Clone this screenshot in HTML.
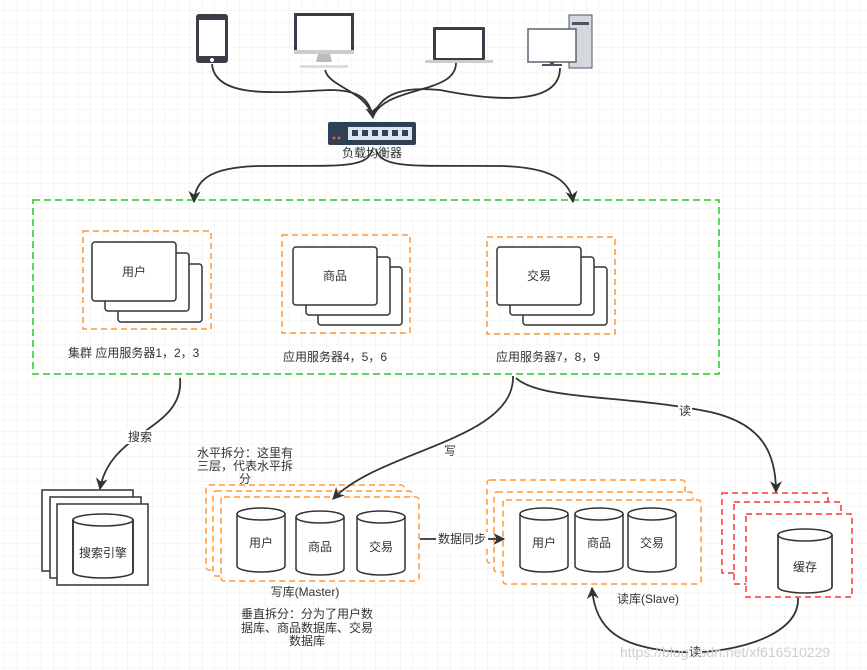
<!DOCTYPE html>
<html><head><meta charset="utf-8"><style>
html,body{margin:0;padding:0;background:#fff}
svg{display:block}
text{font-family:"Liberation Sans","Noto Sans CJK SC",sans-serif;font-size:12px;fill:#333}
</style></head><body>
<svg width="867" height="670" viewBox="0 0 867 670" xmlns="http://www.w3.org/2000/svg">
<defs>
<pattern id="g" x="4" y="-2" width="12.4" height="12.4" patternUnits="userSpaceOnUse">
<path d="M12.4 0V12.4M0 12.4H12.4" stroke="#ececec" stroke-width="1" fill="none"/>
</pattern>
<marker id="a" viewBox="0 0 10 10" refX="9" refY="5" markerWidth="12" markerHeight="12" orient="auto" markerUnits="userSpaceOnUse">
<path d="M0 0L10 5L0 10L3 5Z" fill="#333"/>
</marker>
<g id="cyl">
<path d="M0 6 A24 6 0 0 1 48 6 V58 A24 6 0 0 1 0 58 Z" fill="#fff" stroke="#333" stroke-width="1.5"/>
<path d="M0 6 A24 6 0 0 0 48 6" fill="none" stroke="#333" stroke-width="1.5"/>
</g>
</defs>
<rect width="867" height="670" fill="url(#g)"/>

<!-- devices -->
<rect x="196" y="14" width="32" height="49" rx="3" fill="#3a3d47"/>
<rect x="199" y="20" width="26" height="36" fill="#fff"/>
<circle cx="212" cy="60" r="2" fill="#fff"/>
<rect x="294" y="13" width="60" height="40" fill="#3a3d47"/>
<rect x="297" y="16" width="54" height="34" fill="#fff"/>
<rect x="294" y="50" width="60" height="4" fill="#ccc"/>
<path d="M318 54h12l2 8h-16z" fill="#bbb"/>
<rect x="300" y="65" width="48" height="3" fill="#ddd"/>
<rect x="433" y="27" width="52" height="33" rx="1" fill="#3a3d47"/>
<rect x="436" y="30" width="46" height="28" fill="#fff"/>
<rect x="425" y="60" width="68" height="3" fill="#ccc"/>
<rect x="569" y="15" width="23" height="53" fill="#d5d9de" stroke="#4a5563"/>
<rect x="572" y="22" width="17" height="3" fill="#4a5563"/>
<rect x="528" y="29" width="48" height="33" fill="#fff" stroke="#5a6570" stroke-width="1.5"/>
<rect x="550" y="62" width="4" height="3" fill="#4a5563"/><rect x="542" y="64" width="20" height="2" fill="#4a5563"/>

<!-- switch -->
<rect x="328" y="122" width="88" height="23" rx="2" fill="#2f3f55"/>
<rect x="348" y="127" width="64" height="13" fill="#dbe7f0"/>
<g fill="#2f3f55"><rect x="352" y="130" width="6" height="6"/><rect x="362" y="130" width="6" height="6"/><rect x="372" y="130" width="6" height="6"/><rect x="382" y="130" width="6" height="6"/><rect x="392" y="130" width="6" height="6"/><rect x="402" y="130" width="6" height="6"/></g>
<circle cx="334" cy="138" r="1.5" fill="#e06030"/><circle cx="339" cy="138" r="1.5" fill="#e06030"/>
<text x="372" y="157" text-anchor="middle">负载均衡器</text>

<!-- green cluster -->
<rect x="33" y="200" width="686" height="174" fill="none" stroke="#22cc22" stroke-width="1.5" stroke-dasharray="7,4"/>
<g fill="none" stroke="#ff9933" stroke-width="1.5" stroke-dasharray="6,4">
<rect x="83" y="231" width="128" height="98"/>
<rect x="282" y="235" width="128" height="98"/>
<rect x="487" y="237" width="128" height="97"/>
</g>
<g fill="#fff" stroke="#333" stroke-width="1.5">
<rect x="118" y="264" width="84" height="58" rx="3"/><rect x="105" y="253" width="84" height="58" rx="3"/><rect x="92" y="242" width="84" height="59" rx="3"/>
<rect x="318" y="267" width="84" height="58" rx="3"/><rect x="306" y="257" width="84" height="58" rx="3"/><rect x="293" y="247" width="84" height="58" rx="3"/>
<rect x="523" y="267" width="84" height="58" rx="3"/><rect x="510" y="257" width="84" height="58" rx="3"/><rect x="497" y="247" width="84" height="58" rx="3"/>
</g>
<text x="134" y="276" text-anchor="middle">用户</text>
<text x="335" y="280" text-anchor="middle">商品</text>
<text x="539" y="280" text-anchor="middle">交易</text>
<text x="68" y="357">集群 应用服务器1，2，3</text>
<text x="283" y="361">应用服务器4，5，6</text>
<text x="496" y="361">应用服务器7，8，9</text>

<!-- search engine -->
<g fill="#fff" stroke="#333" stroke-width="1.5">
<rect x="42" y="490" width="91" height="81"/><rect x="50" y="497" width="91" height="81"/><rect x="57" y="504" width="91" height="81"/>
</g>
<use href="#cyl" transform="translate(73,514) scale(1.25,1)"/>
<text x="103" y="557" text-anchor="middle">搜索引擎</text>

<!-- master -->
<text x="197" y="457">水平拆分：这里有</text>
<text x="197" y="470">三层，代表水平拆</text>
<text x="245" y="483" text-anchor="middle">分</text>
<g fill="#fff" stroke="#ff9933" stroke-width="1.5" stroke-dasharray="6,4">
<rect x="206" y="485" width="198" height="85" rx="3"/><rect x="213" y="491" width="199" height="85" rx="3"/><rect x="221" y="497" width="198" height="84" rx="3"/>
</g>
<use href="#cyl" transform="translate(237,508)"/>
<use href="#cyl" transform="translate(296,511)"/>
<use href="#cyl" transform="translate(357,511)"/>
<text x="261" y="547" text-anchor="middle">用户</text>
<text x="320" y="551" text-anchor="middle">商品</text>
<text x="381" y="551" text-anchor="middle">交易</text>
<text x="305" y="596" text-anchor="middle">写库(Master)</text>
<text x="307" y="618" text-anchor="middle">垂直拆分：分为了用户数</text>
<text x="307" y="632" text-anchor="middle">据库、商品数据库、交易</text>
<text x="307" y="645" text-anchor="middle">数据库</text>

<!-- slave -->
<g fill="#fff" stroke="#ff9933" stroke-width="1.5" stroke-dasharray="6,4">
<rect x="487" y="480" width="198" height="83" rx="3"/><rect x="494" y="492" width="199" height="80" rx="3"/><rect x="503" y="500" width="198" height="84" rx="3"/>
</g>
<use href="#cyl" transform="translate(520,508)"/>
<use href="#cyl" transform="translate(575,508)"/>
<use href="#cyl" transform="translate(628,508)"/>
<text x="544" y="547" text-anchor="middle">用户</text>
<text x="599" y="547" text-anchor="middle">商品</text>
<text x="652" y="547" text-anchor="middle">交易</text>
<text x="648" y="603" text-anchor="middle">读库(Slave)</text>

<!-- cache -->
<g fill="#fff" stroke="#ff3333" stroke-width="1.5" stroke-dasharray="6,4">
<rect x="722" y="493" width="106" height="80"/><rect x="734" y="502" width="107" height="82"/><rect x="746" y="514" width="106" height="83"/>
</g>
<use href="#cyl" transform="translate(778,529) scale(1.125,1)"/>
<text x="805" y="571" text-anchor="middle">缓存</text>

<!-- connectors on top -->
<g fill="none" stroke="#333" stroke-width="1.8">
<path d="M212 64 C215 100,280 92,330 90 C360 90,370 100,373 118" marker-end="url(#a)"/>
<path d="M325 70 C330 88,365 90,373 117"/>
<path d="M456 63 C456 95,385 85,373 117"/>
<path d="M560 68 C560 110,480 98,440 90 C400 86,380 95,373 117"/>
<path d="M372 150 C368 170,330 165,260 166 C210 167,195 180,194 202" marker-end="url(#a)"/>
<path d="M376 150 C382 170,420 165,500 166 C550 167,570 180,573 202" marker-end="url(#a)"/>
<path d="M180 378 C185 430,110 430,100 489" marker-end="url(#a)"/>
<path d="M513 376 C515 440,380 450,333 499" marker-end="url(#a)"/>
<path d="M516 378 C540 400,620 395,700 410 C760 420,776 450,776 492" marker-end="url(#a)"/>
<path d="M420 539 H504" marker-end="url(#a)"/>
<path d="M798 598 C800 640,720 655,680 652 C620 648,595 630,592 588" marker-end="url(#a)"/>
</g>
<rect x="126" y="430" width="28" height="14" fill="#fff"/><text x="140" y="441" text-anchor="middle">搜索</text>
<rect x="443" y="444" width="14" height="14" fill="#fff"/><text x="450" y="455" text-anchor="middle">写</text>
<rect x="678" y="404" width="14" height="14" fill="#fff"/><text x="685" y="415" text-anchor="middle">读</text>
<rect x="436" y="532" width="52" height="14" fill="#fff"/><text x="462" y="543" text-anchor="middle">数据同步</text>
<rect x="688" y="645" width="14" height="14" fill="#fff"/><text x="695" y="656" text-anchor="middle">读</text>

<text x="620" y="657" style="font-size:14px;fill:#d0d0d0">https://blog.csdn.net/xf616510229</text>
</svg>
</body></html>
